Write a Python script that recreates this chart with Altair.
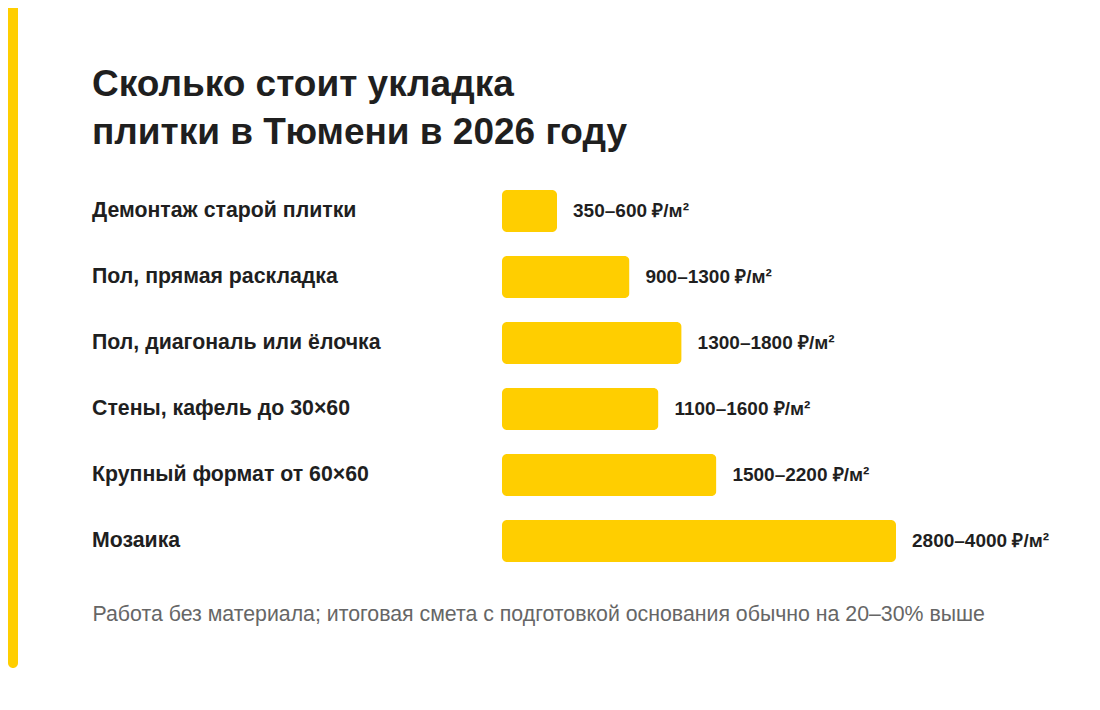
import altair as alt
import pandas as pd

# Работы и цены за м² (нижняя и верхняя граница)
names = [
    "Демонтаж старой плитки",
    "Пол, прямая раскладка",
    "Пол, диагональ или ёлочка",
    "Стены, кафель до 30×60",
    "Крупный формат от 60×60",
    "Мозаика",
]
low = [350, 900, 1300, 1100, 1500, 2800]
high = [600, 1300, 1800, 1600, 2200, 4000]

title_lines = ["Сколько стоит укладка", "плитки в Тюмени в 2026 году"]
note = "Работа без материала; итоговая смета с подготовкой основания обычно на 20–30% выше"

FONT = "Liberation Sans"
YELLOW = "#FFCE00"
DARK = "#1f1f1f"

df = pd.DataFrame({
    "name": names,
    "low": low,
    "high": high,
    "label": [f"{a}–{b} ₽/м²" for a, b in zip(low, high)],
})

base = alt.Chart(df).transform_calculate(
    mid="(datum.low + datum.high) / 2"
)

y = alt.Y(
    "name:N", sort=names, axis=None,
    scale=alt.Scale(paddingInner=24 / 66, paddingOuter=12 / 66),
)
x = alt.X(
    "mid:Q",
    scale=alt.Scale(domain=[0, 3400], range=[410, 804]),
    axis=alt.Axis(
        title=note, domain=False, ticks=False, labels=False, grid=False,
        titleX=0, titleY=46, titleAlign="left", titleBaseline="alphabetic",
        titleFont=FONT, titleFontSize=21.3, titleFontWeight="normal",
        titleColor="#666666", titleAnchor="start",
    ),
)

bars = base.mark_bar(color=YELLOW, cornerRadius=5).encode(x=x, y=y)

values = base.mark_text(
    align="left", baseline="middle", dx=16, font=FONT, fontSize=19,
    fontWeight="bold", color=DARK,
).encode(x=x, y=y, text="label:N")

row_names = base.mark_text(
    align="left", baseline="middle", font=FONT, fontSize=21.3,
    fontWeight="bold", color=DARK,
).encode(x=alt.value(0), y=y, text="name:N")

one = pd.DataFrame({"s": [0]})

stripe = alt.Chart(one).mark_rect(color=YELLOW, cornerRadius=5).encode(
    x=alt.value(-84), x2=alt.value(-74),
    y=alt.value(-176), y2=alt.value(490),
)

heading = alt.Chart(one).mark_text(
    text=title_lines, align="left", baseline="alphabetic", font=FONT,
    fontSize=37, fontWeight="bold", color=DARK, lineHeight=48,
).encode(x=alt.value(0), y=alt.value(-82))

chart = alt.layer(stripe, heading, bars, values, row_names).properties(
    width=1000,
    height=396,
    background="white",
    autosize=alt.AutoSizeParams(type="none"),
    padding={"left": 84, "top": 170, "right": 0, "bottom": 128},
).configure_view(stroke="transparent", strokeWidth=0)

chart.save("out.html", embed_options={"renderer": "svg", "actions": False})
